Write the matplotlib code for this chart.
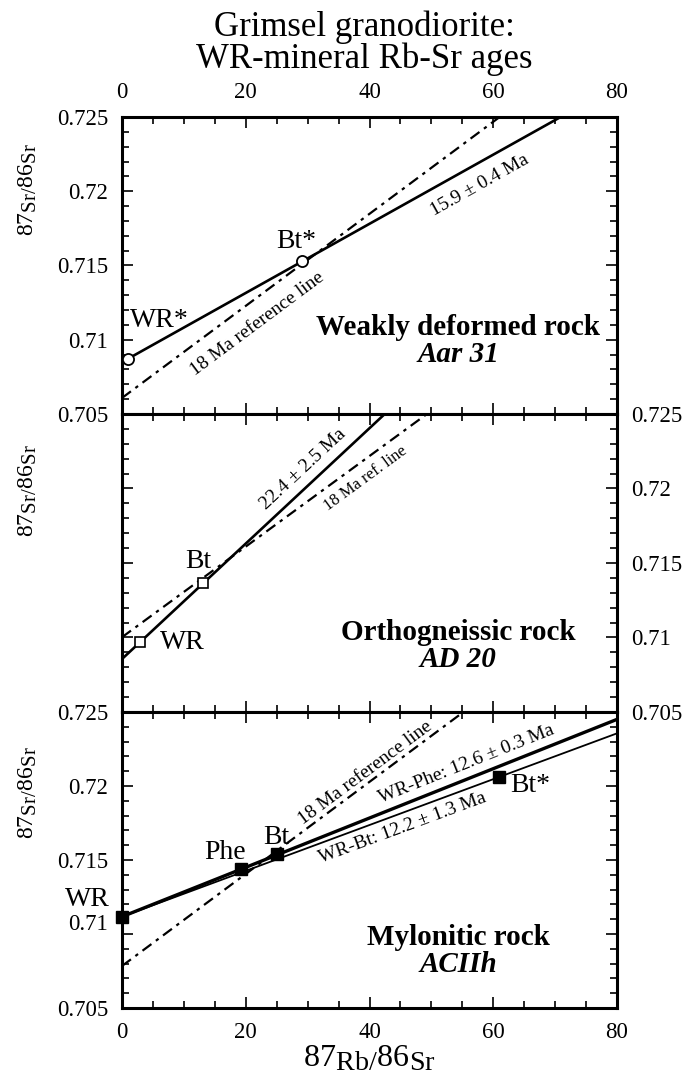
import numpy as np
import matplotlib.pyplot as plt
import matplotlib._mathtext as mathtext_internals
from matplotlib.ticker import MultipleLocator, FuncFormatter
from matplotlib.transforms import ScaledTranslation

plt.rcParams['font.family'] = ['Liberation Serif', 'DejaVu Serif']
plt.rcParams['mathtext.fontset'] = 'custom'
plt.rcParams['mathtext.rm'] = 'Liberation Serif'
plt.rcParams['mathtext.it'] = 'Liberation Serif:italic'
# isotope labels use near full-size lowered text, not tiny subscripts
mathtext_internals.SHRINK_FACTOR = 0.88

# Aar 31, weakly deformed rock (87Rb/86Sr, 87Sr/86Sr)
aar_rb = [0.97, 29.1]
aar_sr = [0.70872, 0.71527]
aar_names = ['WR*', 'Bt*']

# AD 20, orthogneissic rock
ad_rb = [2.9, 13.1]
ad_sr = [0.70968, 0.71363]
ad_names = ['WR', 'Bt']

# ACIIh, mylonitic rock
ac_rb = [0.0, 19.2, 25.1, 60.9]
ac_sr = [0.71117, 0.71437, 0.71541, 0.7206]
ac_names = ['WR', 'Phe', 'Bt', 'Bt*']

age_labels = ['15.9 ± 0.4 Ma', '22.4 ± 2.5 Ma',
              'WR-Phe: 12.6 ± 0.3 Ma', 'WR-Bt: 12.2 ± 1.3 Ma']

# 18 Ma reference lines for each panel
ref_intercept = [0.70608, 0.71002, 0.70784]
ref_slope = [3.10e-4, 3.04e-4, 3.11e-4]

XMAX = 80
W_PX, H_PX = 682, 1078

fig = plt.figure(figsize=(W_PX / 100, H_PX / 100), dpi=100)


def rect(top, bottom):
    return [122 / W_PX, 1 - bottom / H_PX, (617 - 122) / W_PX, (bottom - top) / H_PX]


ax1 = fig.add_axes(rect(117, 414))
ax2 = fig.add_axes(rect(414, 712))
ax3 = fig.add_axes(rect(712, 1008))

fmt = FuncFormatter(lambda v, p: '%g' % round(v, 4))
for ax in (ax1, ax2, ax3):
    ax.set_xlim(0, XMAX)
    ax.set_ylim(0.705, 0.725)
    ax.xaxis.set_major_locator(MultipleLocator(20))
    ax.xaxis.set_minor_locator(MultipleLocator(5))
    ax.yaxis.set_major_locator(MultipleLocator(0.005))
    ax.yaxis.set_minor_locator(MultipleLocator(0.001))
    ax.xaxis.set_major_formatter(fmt)
    ax.yaxis.set_major_formatter(fmt)
    ax.tick_params(which='both', direction='in', top=True, bottom=True,
                   left=True, right=True, width=1.2, labelsize=16.5, pad=10)
    ax.tick_params(which='major', length=8)
    ax.tick_params(which='minor', length=5)
    for sp in ax.spines.values():
        sp.set_linewidth(2.2)

ax1.tick_params(labeltop=True, labelbottom=False, labelleft=True, labelright=False)
ax2.tick_params(labeltop=False, labelbottom=False, labelleft=False, labelright=True)
ax3.tick_params(labeltop=False, labelbottom=True, labelleft=True, labelright=False)


def isochron(ax, xa, ya, xb, yb, x0, lw):
    slope = (yb - ya) / (xb - xa)
    xs = np.array([x0, XMAX])
    ax.plot(xs, ya + slope * (xs - xa), color='black', lw=lw, solid_capstyle='butt')
    return slope


def ref_line(ax, b, m):
    xs = np.array([0, XMAX])
    ax.plot(xs, b + m * xs, color='black', lw=1.6, dashes=(5, 2.5, 1.5, 2.5))


def along(ax, x, y, text, slope, size):
    p1 = ax.transData.transform((x, y))
    p2 = ax.transData.transform((x + 10, y + 10 * slope))
    ang = np.degrees(np.arctan2(p2[1] - p1[1], p2[0] - p1[0]))
    ax.text(x, y, text, rotation=ang, rotation_mode='anchor',
            ha='center', va='center', fontsize=size)


def rock_name(ax, x, y, name, sample):
    ax.text(x, y, name, ha='center', va='center', fontsize=21, fontweight='bold')
    ax.text(x, y - 0.0018, sample, ha='center', va='center', fontsize=21,
            fontweight='bold', fontstyle='italic')


# --- Aar 31
s1 = isochron(ax1, aar_rb[0], aar_sr[0], aar_rb[1], aar_sr[1], aar_rb[0], 1.9)
ref_line(ax1, ref_intercept[0], ref_slope[0])
ax1.plot(aar_rb, aar_sr, 'o', ms=8, mfc='white', mec='black', mew=1.3, zorder=5)
ax1.text(6.1, 0.71128, aar_names[0], ha='center', va='center', fontsize=20)
ax1.text(28.1, 0.71662, aar_names[1], ha='center', va='center', fontsize=20)
along(ax1, 57.8, 0.72041, age_labels[0], s1, 14)
along(ax1, 21.8, 0.71108, '18 Ma reference line', ref_slope[0], 14)
rock_name(ax1, 54.3, 0.71081, 'Weakly deformed rock', 'Aar 31')

# --- AD 20
s2 = isochron(ax2, ad_rb[0], ad_sr[0], ad_rb[1], ad_sr[1], 0, 1.9)
ref_line(ax2, ref_intercept[1], ref_slope[1])
ax2.plot(ad_rb, ad_sr, 's', ms=7.5, mfc='white', mec='black', mew=1.2, zorder=5)
ax2.text(9.7, 0.70968, ad_names[0], ha='center', va='center', fontsize=20)
ax2.text(12.3, 0.71510, ad_names[1], ha='center', va='center', fontsize=20)
along(ax2, 29.2, 0.72132, age_labels[1], s2, 14)
along(ax2, 39.3, 0.72065, '18 Ma ref. line', ref_slope[1], 12)
rock_name(ax2, 54.3, 0.71035, 'Orthogneissic rock', 'AD 20')

# --- ACIIh
s3 = isochron(ax3, ac_rb[0], ac_sr[0], ac_rb[1], ac_sr[1], ac_rb[0], 2.4)
s4 = isochron(ax3, ac_rb[0], ac_sr[0], ac_rb[3], ac_sr[3], ac_rb[0], 1.3)
ref_line(ax3, ref_intercept[2], ref_slope[2])
ax3.plot(ac_rb, ac_sr, 's', ms=8.5, color='black', zorder=5, clip_on=False)
ax3.text(-5.6, 0.71235, ac_names[0], ha='center', va='center', fontsize=20, clip_on=False)
ax3.text(16.6, 0.71554, ac_names[1], ha='center', va='center', fontsize=20)
ax3.text(24.9, 0.71649, ac_names[2], ha='center', va='center', fontsize=20)
ax3.text(65.9, 0.7200, ac_names[3], ha='center', va='center', fontsize=20)
along(ax3, 39.4, 0.72088, '18 Ma reference line', ref_slope[2], 14)
along(ax3, 55.7, 0.72149, age_labels[2], s3, 14)
along(ax3, 45.4, 0.71716, age_labels[3], s4, 14)
rock_name(ax3, 54.3, 0.70973, 'Mylonitic rock', 'ACIIh')

# axis titles and heading
ylab = r'$87_{\mathrm{Sr}/}86_{\mathrm{Sr}}$'
for yc in (190, 491, 793):
    fig.text(28 / W_PX, 1 - yc / H_PX, ylab, rotation=90, ha='center',
             va='center', fontsize=17)
fig.text(369 / W_PX, 1 - 1059 / H_PX, r'$87_{\mathrm{Rb}/}86_{\mathrm{Sr}}$',
         ha='center', va='center', fontsize=23)
fig.text(364 / W_PX, 1 - 43 / H_PX, 'Grimsel granodiorite:\nWR-mineral Rb-Sr ages',
         ha='center', va='center', fontsize=25, linespacing=0.95)

# the 0.71 label of the lower panel sits tucked up under the WR label
fig.canvas.draw()
for lab in ax3.get_yticklabels():
    if lab.get_text() == '0.71':
        lab.set_transform(lab.get_transform()
                          + ScaledTranslation(0, 0.12, fig.dpi_scale_trans))

fig.savefig('out.png', dpi=100)
